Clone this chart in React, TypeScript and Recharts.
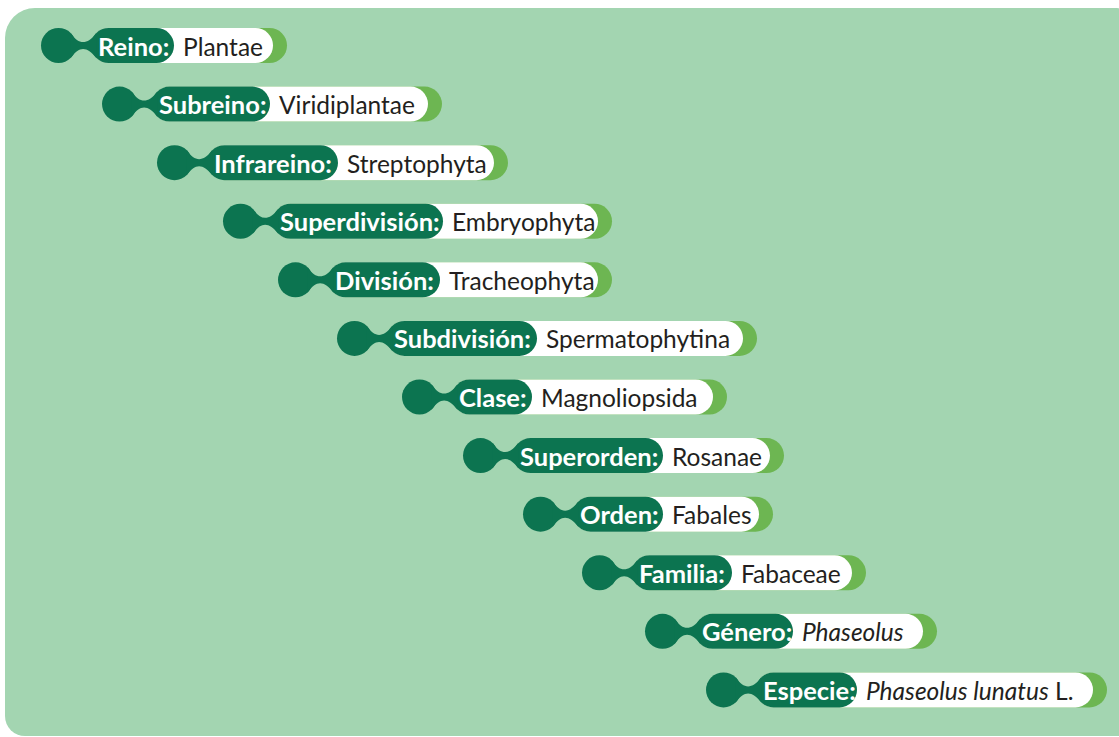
import React from "react"
import { BarChart, Bar, XAxis, YAxis } from "recharts"

// taxonomic ranks, top to bottom
const ranks = [
  "Reino",
  "Subreino",
  "Infrareino",
  "Superdivisión",
  "División",
  "Subdivisión",
  "Clase",
  "Superorden",
  "Orden",
  "Familia",
  "Género",
  "Especie",
]

const names = [
  "Plantae",
  "Viridiplantae",
  "Streptophyta",
  "Embryophyta",
  "Tracheophyta",
  "Spermatophytina",
  "Magnoliopsida",
  "Rosanae",
  "Fabales",
  "Fabaceae",
  "Phaseolus",
  "Phaseolus lunatus L.",
]

// leading part of the name set in italics ("" = none)
const italicParts = ["", "", "", "", "", "", "", "", "", "", "Phaseolus", "Phaseolus lunatus"]

// horizontal extents (same units as the x axis)
const starts = [41, 102, 157, 223, 278, 337, 402, 463, 523, 582, 645, 706]
const labelEnds = [174, 270, 338, 443, 440, 537, 532, 663, 663, 732, 793, 857]
const ends = [287, 442, 508, 612, 612, 757, 727, 784, 773, 866, 937, 1107]

const data = ranks.map((rank, i) => ({
  rank,
  name: names[i],
  italic: italicParts[i],
  start: starts[i],
  labelEnd: labelEnds[i],
  end: ends[i],
  span: ends[i] - starts[i],
}))

const DARK = "#0c7450"
const LIGHT = "#6db652"
const BG = "#a3d5b1"
const FONT = "Lato, 'Open Sans', sans-serif"

function Node(props: any) {
  const { x, y, width, height, payload } = props
  const r = height / 2
  const cy = y + r
  const ppu = width / (payload.end - payload.start)
  const lx = x + (payload.labelEnd - payload.start) * ppu
  const pillX = x + 50
  const cx = x + r
  const px = pillX + r
  const d = r * Math.SQRT1_2
  // narrow concave neck between the dot and the label pill
  const neck =
    `M ${cx + d} ${cy - d} ` +
    `C ${x + 38} ${cy - 0.5}, ${x + 46} ${cy - 0.5}, ${px - d} ${cy - d} ` +
    `L ${px - d} ${cy + d} ` +
    `C ${x + 46} ${cy + 0.5}, ${x + 38} ${cy + 0.5}, ${cx + d} ${cy + d} Z`
  const rest = payload.name.slice(payload.italic.length)
  return (
    <g>
      <rect x={pillX} y={y} width={x + width - pillX} height={height} rx={r} fill={LIGHT} />
      <rect x={pillX} y={y} width={x + width - 14 - pillX} height={height} rx={r} fill="#ffffff" />
      <rect x={pillX} y={y} width={lx - pillX} height={height} rx={r} fill={DARK} />
      <circle cx={cx} cy={cy} r={r} fill={DARK} />
      <path d={neck} fill={DARK} />
      <text
        x={pillX + 7}
        y={cy}
        dominantBaseline="central"
        fill="#ffffff"
        fontFamily={FONT}
        fontWeight={700}
        fontSize={25.5}
      >
        {payload.rank}:
      </text>
      <text
        x={lx + 9}
        y={cy}
        dominantBaseline="central"
        fill="#231f20"
        fontFamily={FONT}
        fontSize={24.5}
      >
        {payload.italic ? <tspan fontStyle="italic">{payload.italic}</tspan> : null}
        {rest ? <tspan>{rest}</tspan> : null}
      </text>
    </g>
  )
}

export default function App() {
  return (
    <div style={{ position: "absolute", left: 0, top: 0, width: 1119, height: 737, background: "#ffffff" }}>
      <div
        style={{
          position: "absolute",
          left: 5,
          top: 8,
          width: 1116,
          height: 728,
          background: BG,
          borderRadius: "30px 4px 0 20px",
        }}
      />
      <div style={{ position: "absolute", left: 0, top: 0 }}>
        <BarChart
          width={1119}
          height={737}
          data={data}
          layout="vertical"
          margin={{ top: 16, right: 0, left: 0, bottom: 18 }}
        >
          <XAxis type="number" domain={[0, 1119]} hide />
          <YAxis type="category" dataKey="rank" hide />
          <Bar dataKey="start" stackId="a" fill="transparent" barSize={35} isAnimationActive={false} />
          <Bar dataKey="span" stackId="a" barSize={35} shape={<Node />} isAnimationActive={false} />
        </BarChart>
      </div>
    </div>
  )
}
